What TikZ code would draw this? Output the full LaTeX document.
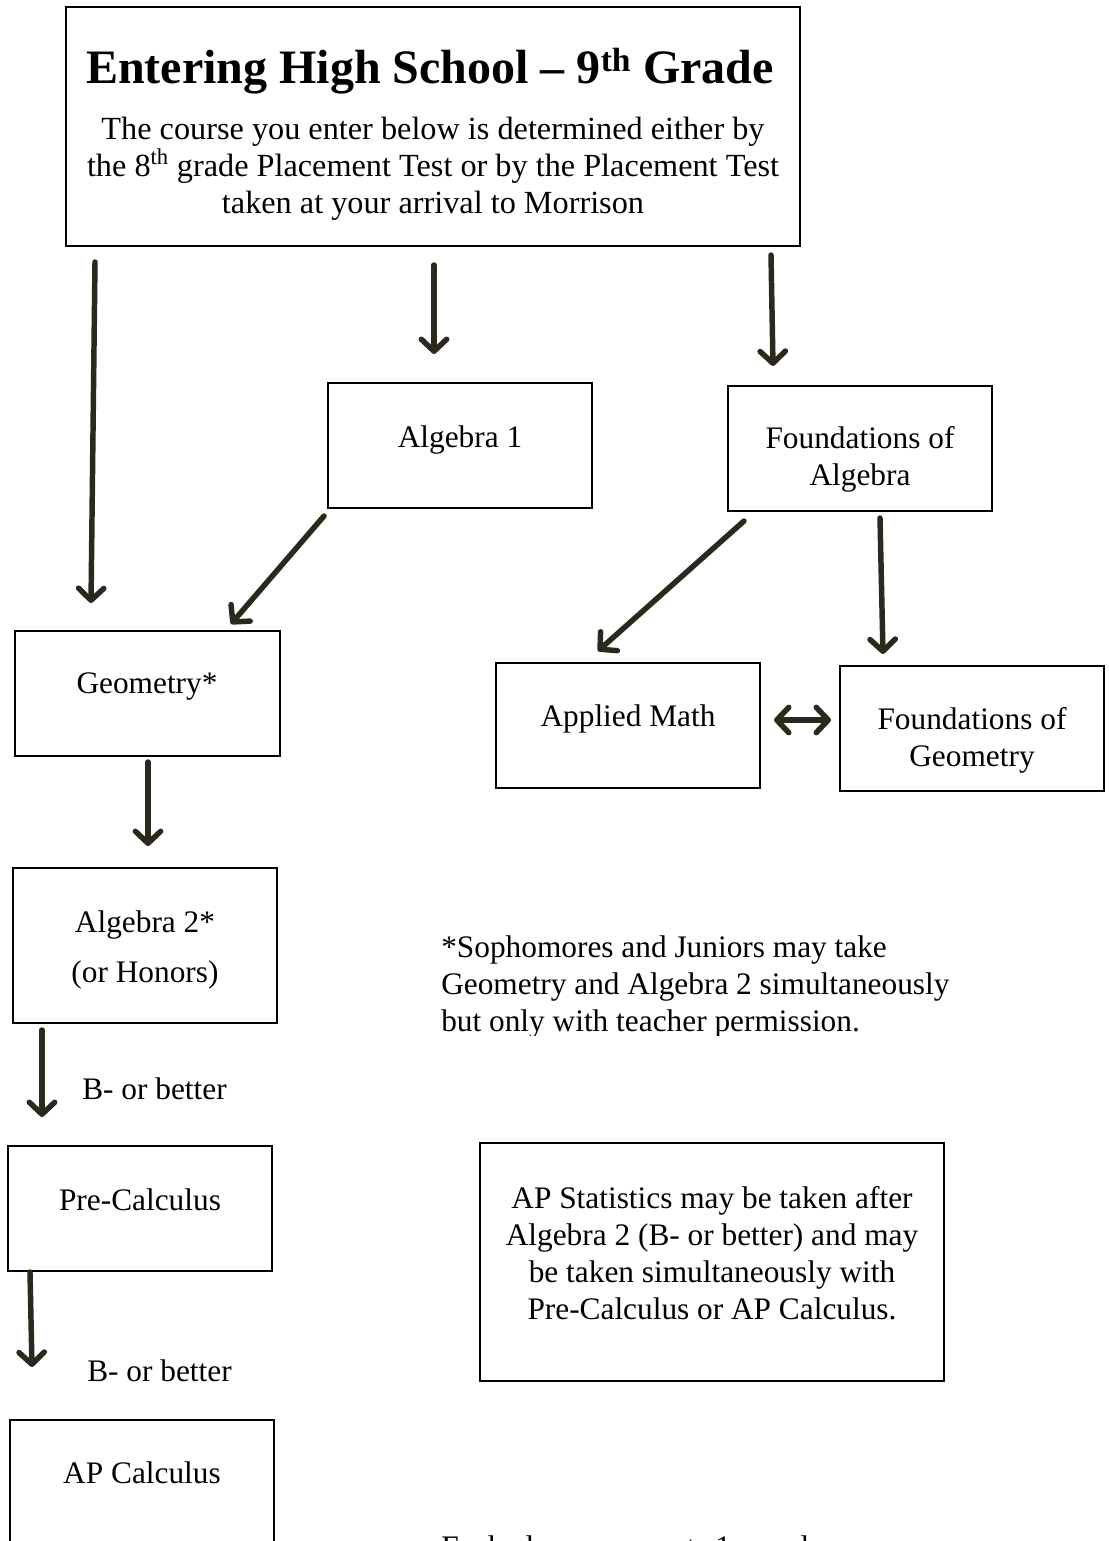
\documentclass[tikz,border=0pt]{standalone}
\usepackage{fontspec}
\setmainfont{Liberation Serif}
\usetikzlibrary{arrows.meta}
\definecolor{arrowcol}{RGB}{43,40,28}
\begin{document}
\begin{tikzpicture}[x=0.75pt,y=-0.75pt,
  box/.style={draw=black,line width=1.3pt,inner sep=0pt},
  txt/.style={font=\fontsize{23.5}{27.75}\selectfont,align=center,inner sep=0pt},
  tip/.style={Straight Barb[length=9pt,width=19pt,round]},
  arr/.style={draw=arrowcol,line width=4.1pt,line cap=round,-{Straight Barb[length=9pt,width=19pt,round]}},
  darr/.style={draw=arrowcol,line width=4.1pt,line cap=round,{Straight Barb[length=9pt,width=19pt,round]}-{Straight Barb[length=9pt,width=19pt,round]}},
]
\useasboundingbox (0,0) rectangle (1108,1541);
\clip (0,0) rectangle (1108,1541);

% boxes
\node[box,minimum width=550.5pt,minimum height=179.25pt] (title) at (433,126.5) {};
\node[box,minimum width=198pt,minimum height=93.75pt] (alg1) at (460,445.5) {};
\node[box,minimum width=198pt,minimum height=93.75pt] (falg) at (860,448.5) {};
\node[box,minimum width=198.75pt,minimum height=93.75pt] (geom) at (147.5,693.5) {};
\node[box,minimum width=198pt,minimum height=93.75pt] (appl) at (628,725.5) {};
\node[box,minimum width=198pt,minimum height=93.75pt] (fgeo) at (972,728.5) {};
\node[box,minimum width=198pt,minimum height=116.25pt] (alg2) at (145,945.5) {};
\node[box,minimum width=198pt,minimum height=93.75pt] (prec) at (140,1208.5) {};
\node[box,minimum width=198pt,minimum height=116.25pt] (apcalc) at (142,1497.5) {};
\node[box,minimum width=348pt,minimum height=178.5pt] (apst) at (712,1262) {};

% texts
\node[txt,font=\fontsize{36}{40}\selectfont\bfseries,anchor=base] (titletxt) at (430,84) {Entering High School – 9\textsuperscript{th} Grade};
\node[txt,font=\fontsize{24.2}{27.75}\selectfont] (subtxt) at (433,169) {The course you enter below is determined either by\\the 8\textsuperscript{th} grade Placement Test or by the Placement Test\\taken at your arrival to Morrison};
\node[txt] (alg1txt) at (460,440) {Algebra 1};
\node[txt] (falgtxt) at (860,459) {Foundations of\\Algebra};
\node[txt] (geomtxt) at (147,687) {Geometry*};
\node[txt] (appltxt) at (628,719) {Applied Math};
\node[txt] (fgeotxt) at (972,740) {Foundations of\\Geometry};
\node[txt] (alg2txt) at (145,950) {Algebra 2*\\[9.75pt](or Honors)};
\node[txt] (prectxt) at (140,1200) {Pre-Calculus};
\node[txt] (apcalctxt) at (142,1473) {AP Calculus};
\node[txt] (apsttxt) at (712,1253) {AP Statistics may be taken after\\Algebra 2 (B- or better) and may\\be taken simultaneously with\\Pre-Calculus or AP Calculus.};
\node[txt] (lab1) at (154.5,1089) {B- or better};
\node[txt] (lab2) at (159.5,1371) {B- or better};
\begin{scope}
\clip (430,920) rectangle (1000,1035);
\node[txt,align=left,anchor=west] (foot) at (441,987) {*Sophomores and Juniors may take\\Geometry and Algebra 2 simultaneously\\but only with teacher permission.};
\end{scope}
\node[txt,anchor=base west] (bottomtxt) at (441,1557) {Each class represents 1 year long};

% arrow end points
\coordinate (a1s) at (95,262);   \coordinate (a1e) at (91,603);
\coordinate (a2s) at (434,265);  \coordinate (a2e) at (434,354);
\coordinate (a3s) at (771,255);  \coordinate (a3e) at (773,366);
\coordinate (a4s) at (324,516);  \coordinate (a4e) at (231,624);
\coordinate (a5s) at (744,521);  \coordinate (a5e) at (598,651);
\coordinate (a6s) at (880,518);  \coordinate (a6e) at (883,654);
\coordinate (a7s) at (774,720);  \coordinate (a7e) at (831,720);
\coordinate (a8s) at (148,762);  \coordinate (a8e) at (148,846);
\coordinate (a9s) at (42,1030);  \coordinate (a9e) at (42,1117);
\coordinate (a10s) at (30,1272); \coordinate (a10e) at (32,1367);

\draw[arr] (a1s) -- (a1e);
\draw[arr] (a2s) -- (a2e);
\draw[arr] (a3s) -- (a3e);
\draw[arr] (a4s) -- (a4e);
\draw[arr] (a5s) -- (a5e);
\draw[arr] (a6s) -- (a6e);
\draw[darr] (a7s) -- (a7e);
\draw[arr] (a8s) -- (a8e);
\draw[arr] (a9s) -- (a9e);
\draw[arr] (a10s) -- (a10e);
\end{tikzpicture}
\end{document}
